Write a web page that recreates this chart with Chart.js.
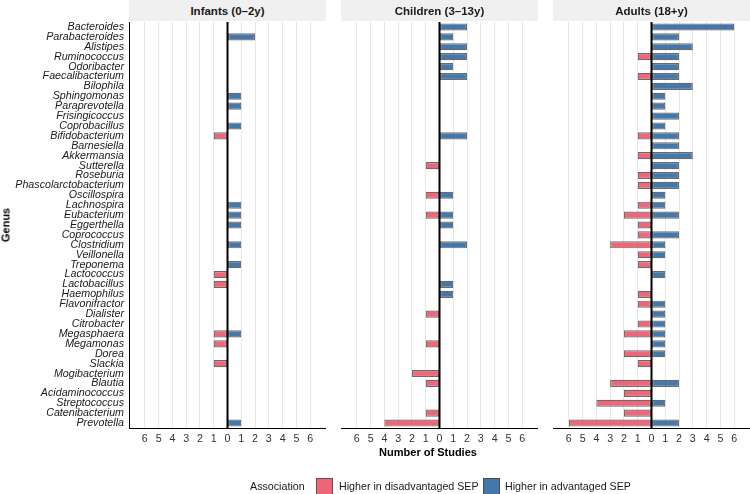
<!DOCTYPE html>
<html>
<head>
<meta charset="utf-8">
<script src="https://cdn.jsdelivr.net/npm/chart.js@4.4.1/dist/chart.umd.min.js"></script>
<style>
  html, body { margin: 0; padding: 0; background: #fff; }
  body { width: 750px; height: 494px; position: relative; overflow: hidden;
         font-family: "Liberation Sans", Arial, Helvetica, sans-serif; }
  .wrap { position: absolute; top: 0; height: 494px; }
  .strip { position: absolute; top: 0; height: 21px; background: #F0F0F0; color: #1a1a1a;
           font-weight: bold; font-size: 11.5px; display: flex; align-items: center; justify-content: center; }
  .xtitle { position: absolute; top: 446px; left: 428px; transform: translateX(-50%);
            font-weight: bold; font-size: 11px; color: #000; white-space: nowrap; line-height: 13px; }
  .ytitle { position: absolute; left: 6px; top: 225px; transform: translate(-50%, -50%) rotate(-90deg);
            font-weight: bold; font-size: 11px; color: #000; white-space: nowrap; line-height: 13px; }
  .legend { position: absolute; top: 478px; height: 16px; font-size: 10.7px; color: #1a1a1a; line-height: 16px; white-space: nowrap; }
  .key { position: absolute; top: 478px; width: 15px; height: 15px; border: 1px solid rgba(70,70,70,0.8); }
</style>
</head>
<body>
<div class="wrap" style="left:0;width:326px"><canvas id="c1" width="326" height="494"></canvas></div>
<div class="wrap" style="left:341px;width:197px"><canvas id="c2" width="197" height="494"></canvas></div>
<div class="wrap" style="left:553px;width:197px"><canvas id="c3" width="197" height="494"></canvas></div>

<div class="strip" style="left:129px;width:197px">Infants (0–2y)</div>
<div class="strip" style="left:341px;width:197px">Children (3–13y)</div>
<div class="strip" style="left:553px;width:197px">Adults (18+y)</div>

<div class="xtitle">Number of Studies</div>
<div class="ytitle">Genus</div>

<div class="legend" style="left:250px">Association</div>
<div class="key" style="left:316px;background:#EE6677"></div>
<div class="legend" style="left:339px">Higher in disadvantaged SEP</div>
<div class="key" style="left:483px;background:#4477AA"></div>
<div class="legend" style="left:505px">Higher in advantaged SEP</div>

<script>
// ---- Data ----
const genera = ["Bacteroides","Parabacteroides","Alistipes","Ruminococcus","Odoribacter","Faecalibacterium",
  "Bilophila","Sphingomonas","Paraprevotella","Frisingicoccus","Coprobacillus","Bifidobacterium","Barnesiella",
  "Akkermansia","Sutterella","Roseburia","Phascolarctobacterium","Oscillospira","Lachnospira","Eubacterium",
  "Eggerthella","Coprococcus","Clostridium","Veillonella","Treponema","Lactococcus","Lactobacillus","Haemophilus",
  "Flavonifractor","Dialister","Citrobacter","Megasphaera","Megamonas","Dorea","Slackia","Mogibacterium","Blautia",
  "Acidaminococcus","Streptococcus","Catenibacterium","Prevotella"];

// number of studies: higher in advantaged SEP (plotted right) / disadvantaged SEP (plotted left)
const infantsAdv  = [0,2,0,0,0,0,0,1,1,0,1,0,0,0,0,0,0,0,1,1,1,0,1,0,1,0,0,0,0,0,0,1,0,0,0,0,0,0,0,0,1];
const infantsDis  = [0,0,0,0,0,0,0,0,0,0,0,1,0,0,0,0,0,0,0,0,0,0,0,0,0,1,1,0,0,0,0,1,1,0,1,0,0,0,0,0,0];
const childrenAdv = [2,1,2,2,1,2,0,0,0,0,0,2,0,0,0,0,0,1,0,1,1,0,2,0,0,0,1,1,0,0,0,0,0,0,0,0,0,0,0,0,0];
const childrenDis = [0,0,0,0,0,0,0,0,0,0,0,0,0,0,1,0,0,1,0,1,0,0,0,0,0,0,0,0,0,1,0,0,1,0,0,2,1,0,0,1,4];
const adultsAdv   = [6,2,3,2,2,2,3,1,1,2,1,2,2,3,2,2,2,1,1,2,0,2,1,1,0,1,0,0,1,1,1,1,1,1,0,0,2,0,1,0,2];
const adultsDis   = [0,0,0,1,0,1,0,0,0,0,0,1,0,1,0,1,1,0,1,2,1,1,3,1,1,0,0,1,1,0,1,2,0,2,1,0,3,2,4,2,6];

const xTicks = [-6,-5,-4,-3,-2,-1,0,1,2,3,4,5,6];

const RED = "#EE6677", BLUE = "#4477AA", EDGE = "rgba(70,70,70,0.8)";
const FAMILY = '"Liberation Sans", Arial, Helvetica, sans-serif';

const zeroLine = {
  id: 'zeroLine',
  afterDatasetsDraw(chart) {
    const ctx = chart.ctx, x = chart.scales.x.getPixelForValue(0);
    const {top, bottom} = chart.chartArea;
    ctx.save();
    ctx.strokeStyle = '#000';
    ctx.lineWidth = 2;
    ctx.beginPath(); ctx.moveTo(x, top); ctx.lineTo(x, bottom); ctx.stroke();
    ctx.restore();
  }
};

function makeChart(id, adv, dis, showY) {
  return new Chart(document.getElementById(id), {
    type: 'bar',
    data: {
      labels: genera,
      datasets: [
        { label: 'Higher in disadvantaged SEP', data: dis.map(v => v ? -v : null),
          backgroundColor: RED, borderColor: EDGE, borderWidth: 1.2, borderSkipped: false },
        { label: 'Higher in advantaged SEP', data: adv.map(v => v ? v : null),
          backgroundColor: BLUE, borderColor: EDGE, borderWidth: 1.2, borderSkipped: false }
      ]
    },
    options: {
      indexAxis: 'y',
      responsive: false,
      animation: false,
      layout: { padding: { top: 22, left: 0, right: 0, bottom: 0 } },
      plugins: { legend: { display: false }, tooltip: { enabled: false } },
      datasets: { bar: { categoryPercentage: 1, barPercentage: 0.72 } },
      scales: {
        x: {
          type: 'linear', min: -7.15, max: 7.15, stacked: true,
          afterBuildTicks: s => { s.ticks = xTicks.map(v => ({ value: v })); },
          afterFit: s => { s.height = 66; },
          grid: { color: ctx => ctx.tick && ctx.tick.value === 0 ? 'rgba(0,0,0,0)' : '#E8E8E8', lineWidth: 1, drawTicks: false },
          border: { display: true, color: '#000', width: 1 },
          ticks: { padding: 5, color: '#333', font: { size: 10.7, family: FAMILY },
                   callback: v => Math.abs(v), autoSkip: false, maxRotation: 0 }
        },
        y: {
          type: 'category', stacked: true, display: showY, offset: true,
          grid: { display: false, drawTicks: false },
          border: { display: showY, color: '#000', width: 1 },
          afterFit: s => { s.width = showY ? 129 : 0; },
          ticks: { padding: 5, color: '#1a1a1a', autoSkip: false,
                   font: { size: 10.7, style: 'italic', family: FAMILY } }
        }
      }
    },
    plugins: [zeroLine]
  });
}

makeChart('c1', infantsAdv, infantsDis, true);
makeChart('c2', childrenAdv, childrenDis, false);
makeChart('c3', adultsAdv, adultsDis, false);
</script>
</body>
</html>
